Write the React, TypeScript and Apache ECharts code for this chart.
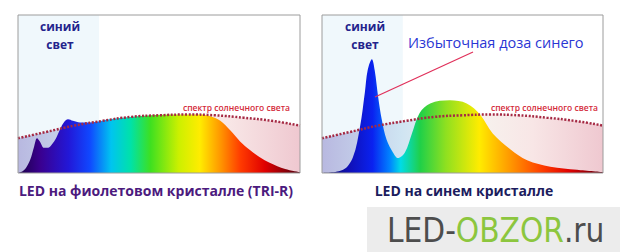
import React, { useEffect, useRef } from 'react';
import * as echarts from 'echarts';

// Solar spectrum (relative units) — same curve in both panels
const sunNm = [380, 420, 460, 500, 540, 580, 620, 660, 700, 740, 780];
const sunValues = [22, 26, 30, 33, 35.5, 36.5, 37, 36.5, 35, 33, 30];

// LED on violet chip (TRI-R)
const violetNm = [380, 386, 391, 397, 403, 407, 411, 417, 423, 428, 434, 440, 445, 451, 458, 468, 482, 510, 553, 596, 638, 652, 667, 681, 695, 709, 723, 737, 759, 780];
const violetValues = [0, 1, 3, 8, 17, 22, 20, 16, 16, 18, 22, 28, 32, 34, 33, 32, 32, 34, 36, 37, 37, 36, 33, 27, 20, 14.5, 10, 6.5, 2.5, 0.5];

// LED on blue chip
const blueNm = [380, 410, 424, 434, 441, 445, 451, 455, 460, 465, 472, 481, 488, 498, 508, 519, 534, 562, 586, 605, 623, 648, 672, 705, 743, 780];
const blueValues = [0, 2, 10, 29, 51, 65, 72, 65, 48, 34, 21, 13, 9.5, 13, 25, 38, 44, 46, 44, 37, 25, 15, 8, 4, 2, 0.5];

const blueRegion = [380, 495];

const panelTitles = ['LED на фиолетовом кристалле (TRI-R)', 'LED на синем кристалле'];
const blueLabel = ['синий', 'свет'];
const sunLabel = 'спектр солнечного света';
const excessLabel = 'Избыточная доза синего';

const zip = (a: number[], b: number[]) => a.map((x, i) => [x, b[i]]);

const grad = (stops: [number, string][]) =>
  new echarts.graphic.LinearGradient(0, 0, 1, 0, stops.map(([offset, color]) => ({ offset, color })));

const violetGrad: [number, string][] = [
  [0, '#1c0048'], [0.08, '#3a0090'], [0.18, '#2218d8'], [0.255, '#1048ff'], [0.33, '#00c4f0'],
  [0.4, '#00e2a8'], [0.47, '#3ee020'], [0.57, '#ccf000'], [0.645, '#ffec00'], [0.72, '#ff9400'],
  [0.79, '#ff3a00'], [0.875, '#e00000'], [1, '#500010'],
];
const blueGrad: [number, string][] = [
  [0, '#0c0c60'], [0.1, '#1010b8'], [0.18, '#0a22f0'], [0.24, '#0080ff'], [0.28, '#00dce6'],
  [0.35, '#20d048'], [0.44, '#8ee020'], [0.56, '#ffec00'], [0.67, '#ff9800'], [0.78, '#ff4000'],
  [0.88, '#e00000'], [1, '#5a0010'],
];
const sunGrad: [number, string][] = [
  [0, '#b8b8e0'], [0.28, '#cfe4f2'], [0.5, '#f6f6f0'], [0.75, '#f8e6e6'], [1, '#efc8d0'],
];

export default function App() {
  const ref = useRef<HTMLDivElement>(null);
  useEffect(() => {
    if (!ref.current) return;
    const chart = echarts.init(ref.current, undefined, { renderer: 'svg' });
    const grids = [
      { left: 18, top: 15, width: 282, height: 158 },
      { left: 322, top: 15, width: 281, height: 158 },
    ];
    const leds = [
      { data: zip(violetNm, violetValues), g: violetGrad },
      { data: zip(blueNm, blueValues), g: blueGrad },
    ];
    const series: any[] = [];
    [0, 1].forEach((i) => {
      series.push({
        type: 'line', xAxisIndex: i, yAxisIndex: i, data: [], z: 0, silent: true,
        markArea: {
          silent: true,
          itemStyle: { color: '#f0f8fc' },
          data: [[{ xAxis: blueRegion[0] }, { xAxis: blueRegion[1] }]],
        },
      });
      series.push({
        type: 'line', xAxisIndex: i, yAxisIndex: i, data: zip(sunNm, sunValues), smooth: true,
        showSymbol: false, lineStyle: { width: 0, opacity: 0 }, z: 1,
        areaStyle: { color: grad(sunGrad), opacity: 1 },
      });
      series.push({
        type: 'line', xAxisIndex: i, yAxisIndex: i, data: leds[i].data, smooth: 0.35,
        showSymbol: false, lineStyle: { width: 0, opacity: 0 }, z: 2,
        areaStyle: { color: grad(leds[i].g), opacity: 1 },
      });
      series.push({
        type: 'line', xAxisIndex: i, yAxisIndex: i, data: zip(sunNm, sunValues), smooth: true,
        showSymbol: false, z: 3,
        lineStyle: { color: '#a52a44', width: 2.5, type: [2, 1.6] },
      });
    });

    const txt = (x: number, y: number, text: string, font: string, fill: string, align = 'center') => ({
      type: 'text', x, y, z: 100,
      style: { text, font, fill, textAlign: align, textVerticalAlign: 'middle', align, verticalAlign: 'middle' },
    });

    chart.setOption({
      animation: false,
      backgroundColor: '#ffffff',
      grid: grids.map((g) => ({ ...g, show: true, borderColor: '#9c9c9c', borderWidth: 1, backgroundColor: 'transparent', z: 5 })),
      xAxis: [0, 1].map((i) => ({
        type: 'value', gridIndex: i, min: 380, max: 780, show: false,
      })),
      yAxis: [0, 1].map((i) => ({
        type: 'value', gridIndex: i, min: 0, max: 100, show: false,
      })),
      series,
      graphic: [
        txt(60, 26, blueLabel[0], '700 12px "Open Sans"', '#23238c'),
        txt(60, 44, blueLabel[1], '700 12px "Open Sans"', '#23238c'),
        txt(365, 26, blueLabel[0], '700 12px "Open Sans"', '#23238c'),
        txt(365, 44, blueLabel[1], '700 12px "Open Sans"', '#23238c'),
        txt(408, 42, excessLabel, '14.5px "Open Sans"', '#2a36d4', 'left'),
        txt(290, 107.5, sunLabel, '600 8.5px "Open Sans"', '#d42a3a', 'right'),
        txt(598, 107.5, sunLabel, '600 8.5px "Open Sans"', '#d42a3a', 'right'),
        txt(156, 190, panelTitles[0], '700 14px "Open Sans"', '#4c1a7e'),
        txt(464, 190, panelTitles[1], '700 14px "Open Sans"', '#1c1c5e'),
        {
          type: 'line', z: 100,
          shape: { x1: 473, y1: 52, x2: 375, y2: 97 },
          style: { stroke: '#e0305a', lineWidth: 1.2 },
        },
        {
          type: 'rect', z: 90,
          shape: { x: 367, y: 207, width: 253, height: 45 },
          style: { fill: '#ececec' },
        },
        {
          type: 'text', x: 387, y: 230, z: 100,
          style: {
            text: '{a|LED-}{b|OBZOR}{a|.ru}',
            textVerticalAlign: 'middle', verticalAlign: 'middle',
            rich: {
              a: { font: '33px "DejaVu Sans Condensed"', fill: '#4d4d4d', color: '#4d4d4d' },
              b: { font: '33px "DejaVu Sans Condensed"', fill: '#8cc63e', color: '#8cc63e' },
            },
          },
        },
      ],
    });
    return () => chart.dispose();
  }, []);
  return <div ref={ref} style={{ position: 'fixed', left: 0, top: 0, width: 620, height: 252 }} />;
}
